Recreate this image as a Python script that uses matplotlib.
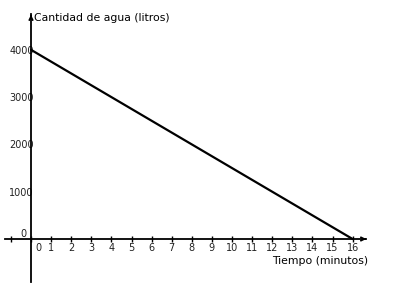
import matplotlib
matplotlib.use("Agg")
import matplotlib.pyplot as plt
import matplotlib.transforms as mtransforms

tiempo = [0, 16]
agua = [4000, 0]
x_ticks = list(range(-1, 17))
x_labels = [""] + [str(v) for v in range(0, 17)]
y_ticks = [0, 1000, 2000, 3000, 4000]
y_labels = ["0", "1000", "2000", "3000", "4000"]

fig = plt.figure(figsize=(3.99, 2.99), dpi=100)
ax = fig.add_axes([0, 0, 1, 1])
pxx = 20.1
pxy = 47.3 / 1000
ax.set_xlim(-31 / pxx, (399 - 31) / pxx)
ax.set_ylim(-(299 - 239) / pxy, 239 / pxy)

for s in ["top", "right"]:
    ax.spines[s].set_visible(False)
ax.spines["left"].set_position(("data", 0))
ax.spines["bottom"].set_position(("data", 0))
ax.spines["left"].set_bounds(-(282 - 239) / pxy, (239 - 14) / pxy)
ax.spines["bottom"].set_bounds((5 - 31) / pxx, (366 - 31) / pxx)
ax.spines["left"].set_linewidth(1.3)
ax.spines["bottom"].set_linewidth(1.3)

# arrows
ax.annotate("", xy=((369 - 31) / pxx, 0), xytext=((362 - 31) / pxx, 0),
            arrowprops=dict(arrowstyle="->", lw=1.3, color="black", mutation_scale=6))
ax.annotate("", xy=(0, (239 - 12) / pxy), xytext=(0, (239 - 19) / pxy),
            arrowprops=dict(arrowstyle="->", lw=1.3, color="black", mutation_scale=6))

ax.set_xticks(x_ticks)
ax.set_xticklabels(x_labels, fontsize=7, color="#222222")
ax.tick_params(axis="x", direction="inout", length=4, width=1, pad=1)
lab0 = ax.get_xticklabels()[1]
lab0.set_transform(lab0.get_transform() + mtransforms.ScaledTranslation(7 / 100, 0, fig.dpi_scale_trans))

ax.set_yticks(y_ticks[1:])
ax.set_yticklabels(y_labels[1:], fontsize=7, color="#222222")
ax.tick_params(axis="y", length=0, pad=-2)
ax.text(-0.2, 0.03 / pxy, "0", fontsize=7, ha="right", va="bottom", color="#222222")

ax.plot(tiempo, agua, color="black", lw=1.6, solid_capstyle="round")

ax.text((34 - 31) / pxx, (239 - 18) / pxy, "Cantidad de agua (litros)", fontsize=7.8,
        ha="left", va="center")
ax.text((368 - 31) / pxx, -(261 - 239) / pxy, "Tiempo (minutos)", fontsize=7.8,
        ha="right", va="center")

fig.savefig("out.png", dpi=100)
